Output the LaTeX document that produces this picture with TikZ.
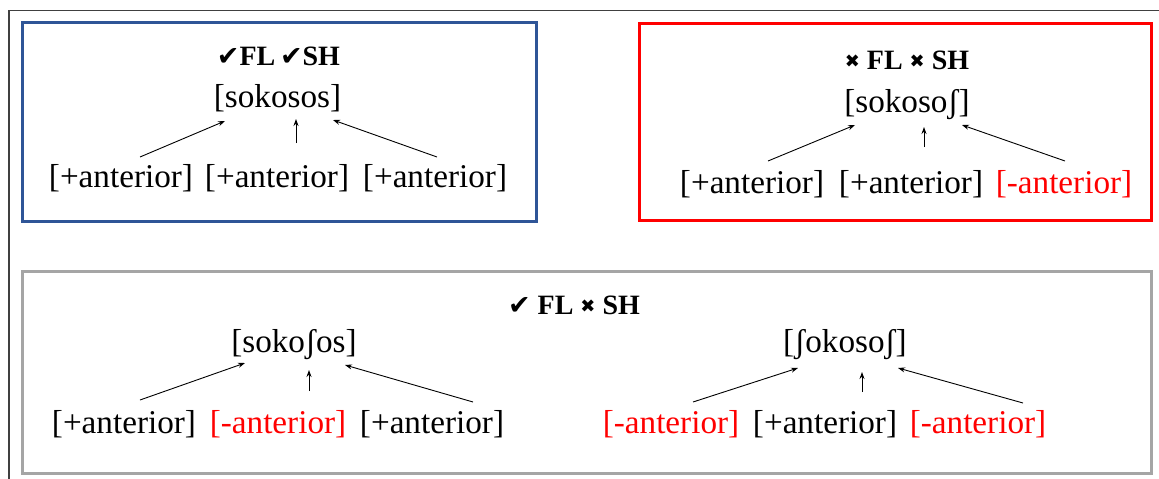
\documentclass[tikz,border=0pt]{standalone}
\usepackage{fontspec}
\setmainfont{Liberation Serif}
\newfontfamily\symfont{DejaVu Sans}
\usetikzlibrary{arrows.meta}
\definecolor{boxblue}{HTML}{2F5597}
\definecolor{boxred}{HTML}{FF0000}
\definecolor{boxgray}{HTML}{A5A5A5}
\definecolor{framegray}{HTML}{404040}
\definecolor{txtred}{HTML}{FF0000}
\newcommand{\ck}{{\symfont\fontsize{27}{27}\selectfont ✔}}
\newcommand{\xx}{{\symfont\fontsize{18}{18}\selectfont\raisebox{2pt}{✖}}}
\tikzset{
  lbl/.style={anchor=base, inner sep=0pt, font=\fontsize{33.2}{36}\selectfont},
  neg/.style={lbl, text=txtred},
  ttl/.style={anchor=base, inner sep=0pt, font=\fontsize{28}{30}\selectfont\bfseries},
  arr/.style={line width=0.9pt, -{Stealth[length=7pt,width=5pt]}},
  bx/.style={line width=3pt}
}
\begin{document}
\begin{tikzpicture}[x=1pt,y=-1pt]
\useasboundingbox (0,0) rectangle (1159,479);
\fill[white] (0,0) rectangle (1159,479);
% outer frame (cropped)
\draw[framegray, line width=1.5pt] (9,479) -- (9,10.5) -- (1159,10.5);
% boxes
\draw[bx, boxblue] (22,22) rectangle (536,221);
\draw[bx, boxred] (639,23) rectangle (1151,220);
\draw[bx, boxgray] (22,271) rectangle (1151,473);
% box 1
\node[ttl] (t1) at (278.5,65) {\ck FL\,\ck SH};
\node[lbl] (w1) at (277.5,107) {[sokosos]};
\node[lbl] (l11) at (121,187) {[+anterior]};
\node[lbl] (l12) at (277,187) {[+anterior]};
\node[lbl] (l13) at (435,187) {[+anterior]};
\draw[arr] ([shift={(19,-30)}]l11.base) -- ([shift={(-52.5,14)}]w1.base);
\draw[arr] ([shift={(19,-44)}]l12.base) -- ([shift={(18.5,12)}]w1.base);
\draw[arr] ([shift={(2,-30)}]l13.base) -- ([shift={(55.5,13)}]w1.base);
% box 2
\node[ttl] (t2) at (907,69) {\xx{} FL \xx{} SH};
\node[lbl] (w2) at (907,112) {[sokosoʃ]};
\node[lbl] (l21) at (752,193) {[+anterior]};
\node[lbl] (l22) at (911,193) {[+anterior]};
\node[neg] (l23) at (1064,193) {[-anterior]};
\draw[arr] ([shift={(16,-32)}]l21.base) -- ([shift={(-52,13)}]w2.base);
\draw[arr] ([shift={(13,-46)}]l22.base) -- ([shift={(17,15)}]w2.base);
\draw[arr] ([shift={(1,-32)}]l23.base) -- ([shift={(55,13)}]w2.base);
% box 3
\node[ttl] (t3) at (574,314) {\ck{} FL \xx{} SH};
\node[lbl] (w3) at (294,352) {[sokoʃos]};
\node[lbl] (l31) at (124,433) {[+anterior]};
\node[neg] (l32) at (278,433) {[-anterior]};
\node[lbl] (l33) at (432,433) {[+anterior]};
\draw[arr] ([shift={(16,-33)}]l31.base) -- ([shift={(-49,11)}]w3.base);
\draw[arr] ([shift={(31,-42)}]l32.base) -- ([shift={(15,18)}]w3.base);
\draw[arr] ([shift={(41,-31)}]l33.base) -- ([shift={(51,13)}]w3.base);
\node[lbl] (w4) at (845,352) {[ʃokosoʃ]};
\node[neg] (l41) at (671,433) {[-anterior]};
\node[lbl] (l42) at (825,433) {[+anterior]};
\node[neg] (l43) at (978,433) {[-anterior]};
\draw[arr] ([shift={(22,-31)}]l41.base) -- ([shift={(-47,16)}]w4.base);
\draw[arr] ([shift={(37,-41)}]l42.base) -- ([shift={(17,20)}]w4.base);
\draw[arr] ([shift={(45,-30)}]l43.base) -- ([shift={(53,16)}]w4.base);
\end{tikzpicture}
\end{document}
